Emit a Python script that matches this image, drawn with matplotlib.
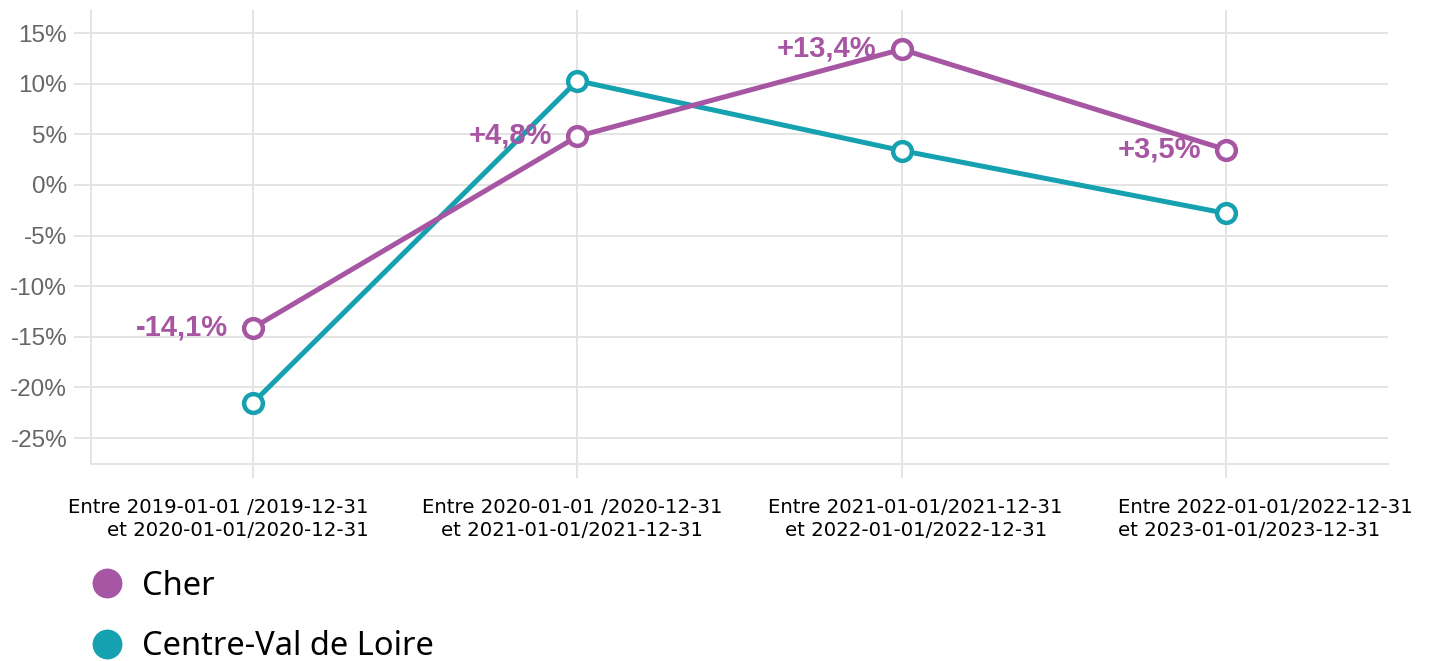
import matplotlib
matplotlib.use('Agg')
import matplotlib.pyplot as plt
from matplotlib.lines import Line2D

# data
periods = [
    "Entre 2019-01-01 /2019-12-31\net 2020-01-01/2020-12-31",
    "Entre 2020-01-01 /2020-12-31\net 2021-01-01/2021-12-31",
    "Entre 2021-01-01/2021-12-31\net 2022-01-01/2022-12-31",
    "Entre 2022-01-01/2022-12-31\net 2023-01-01/2023-12-31",
]
cher = [-14.1, 4.8, 13.4, 3.5]
centre_vdl = [-21.5, 10.3, 3.4, -2.8]
y_ticks = [-25, -20, -15, -10, -5, 0, 5, 10, 15]

PURPLE = '#A656A2'
TEAL = '#15A1B0'
GRID = '#E4E4E4'

# per-label horizontal shift (px) and line alignment, as in the reference
label_shift = [-35, -5, 14, 40]
label_align = ['right', 'center', 'center', 'left']

fig = plt.figure(figsize=(14.29, 6.61), dpi=100)
ax = fig.add_axes([0.0637, 0.298, 0.9076, 0.6868])

x = list(range(len(periods)))

ax.plot(x, centre_vdl, color=TEAL, lw=3.6, marker='o', ms=13.5,
        mfc='white', mec=TEAL, mew=3.2, zorder=3, solid_capstyle='round')
ax.plot(x, cher, color=PURPLE, lw=3.6, marker='o', ms=13.5,
        mfc='white', mec=PURPLE, mew=3.2, zorder=4, solid_capstyle='round')

for xi, v in zip(x, cher):
    txt = f"{v:+.1f}%".replace('.', ',')
    ax.annotate(txt, xy=(xi, v), xytext=(-18, 2.5), textcoords='offset points',
                ha='right', va='center_baseline', color=PURPLE, fontsize=21,
                fontweight='bold', family='Liberation Sans', zorder=5)

ax.set_xlim(-0.5, 3.5)
ax.set_ylim(-27.56, 17.28)
ax.set_xticks(x)
ax.set_xticklabels([])
ax.set_yticks(y_ticks)
ax.set_yticklabels([f"{t}%" for t in y_ticks], family='Liberation Sans',
                   fontsize=17.5, color='#666666')
ax.tick_params(axis='y', length=12.2, width=1.4, color=GRID, pad=5)
ax.tick_params(axis='x', length=10, width=1.4, color=GRID, pad=0)
ax.grid(True, color=GRID, lw=1.4)
ax.set_axisbelow(True)

for side in ['top', 'right']:
    ax.spines[side].set_visible(False)
for side in ['left', 'bottom']:
    ax.spines[side].set_color(GRID)
    ax.spines[side].set_linewidth(1.4)

for xi, lbl, dx, al in zip(x, periods, label_shift, label_align):
    ax.annotate(lbl, xy=(xi, 0), xycoords=ax.get_xaxis_transform(),
                xytext=(dx * 0.72, -24.5), textcoords='offset points',
                ha='center', va='top', multialignment=al,
                fontsize=14.2, family='DejaVu Sans', linespacing=1.25,
                annotation_clip=False)

handles = [
    Line2D([], [], ls='none', marker='o', ms=21.5, mfc=PURPLE, mec='none'),
    Line2D([], [], ls='none', marker='o', ms=21.5, mfc=TEAL, mec='none'),
]
fig.legend(handles, ['Cher', 'Centre-Val de Loire'], loc='upper left',
           bbox_to_anchor=(0.0635, 0.138), frameon=False,
           prop={'family': 'Noto Sans', 'size': 23.5}, handlelength=1.0,
           handletextpad=0.57, labelspacing=0.84, borderaxespad=0,
           borderpad=0)

fig.savefig('out.png', dpi=100)
